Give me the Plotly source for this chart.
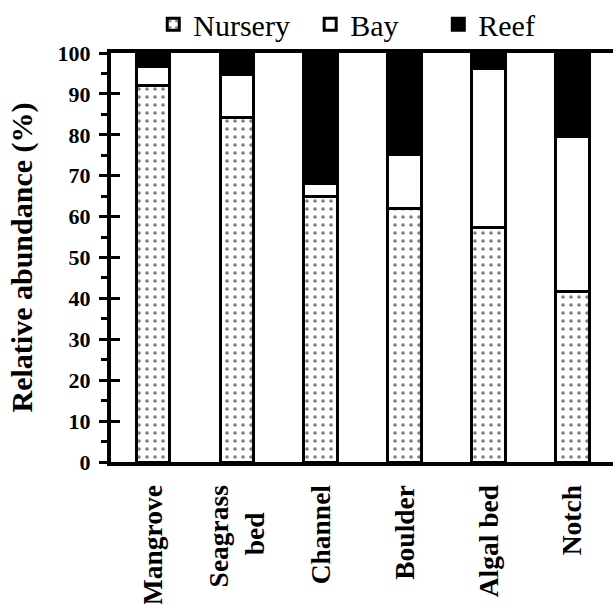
import plotly.graph_objects as go

categories = ["Mangrove", "Seagrass<br>bed\u00a0\u00a0\u00a0\u00a0", "Channel", "Boulder", "Algal bed", "Notch"]
nursery = [92.0, 84.3, 64.8, 62.0, 57.4, 41.6]
bay = [4.8, 10.5, 3.4, 13.1, 38.7, 37.9]
reef = [3.2, 5.2, 31.8, 24.9, 3.9, 20.5]
y_major = [0, 10, 20, 30, 40, 50, 60, 70, 80, 90, 100]

FONT = "Liberation Serif, Tinos, Times New Roman, DejaVu Serif, serif"
x_idx = list(range(len(categories)))
outline = dict(color="black", width=3)
BW = 0.4

fig = go.Figure()
fig.add_bar(x=x_idx, y=nursery, name="Nursery", width=BW, legend="legend",
            marker=dict(color="white", line=outline,
                        pattern=dict(shape=".", fgcolor="black", bgcolor="white",
                                     size=8, solidity=0.16)))
fig.add_bar(x=x_idx, y=bay, name="Bay", width=BW, legend="legend2",
            marker=dict(color="white", line=outline))
fig.add_bar(x=x_idx, y=reef, name="Reef", width=BW, legend="legend3",
            marker=dict(color="black", line=outline))
fig.add_scatter(x=[None], y=[None], yaxis="y2", showlegend=False, hoverinfo="skip")

legend_common = dict(orientation="h", xanchor="left", yanchor="middle",
                     xref="container", yref="container",
                     font=dict(family=FONT, size=30, color="black"),
                     bgcolor="rgba(0,0,0,0)", borderwidth=0)

fig.update_layout(
    width=613, height=604,
    margin=dict(l=111, r=0, t=52.5, b=141.5, autoexpand=False),
    paper_bgcolor="white", plot_bgcolor="white",
    barmode="stack",
    font=dict(family=FONT, color="black"),
    legend=dict(x=0.250, y=0.960, **legend_common),
    legend2=dict(x=0.506, y=0.960, **legend_common),
    legend3=dict(x=0.715, y=0.960, **legend_common),
    xaxis=dict(range=[-0.50, 5.483], tickmode="array", tickvals=x_idx, ticktext=categories,
               tickangle=-90, ticks="", showgrid=False, zeroline=False, automargin=False,
               showline=True, linewidth=4, linecolor="black", mirror=True,
               tickfont=dict(family=FONT, size=27.5, weight="bold", color="black"),
               ticklabelstandoff=8),
    yaxis=dict(range=[0, 100], tickmode="array", tickvals=y_major, ticks="outside",
               ticklen=8, tickwidth=3, tickcolor="black", automargin=False,
               minor=dict(dtick=5, ticks="outside", ticklen=6, tickwidth=3, tickcolor="black"),
               showline=True, linewidth=4, linecolor="black", showgrid=False, zeroline=False,
               tickfont=dict(family=FONT, size=22, weight="bold", color="black"),
               ticklabelstandoff=4,
               title=dict(text="Relative abundance (%)", standoff=17,
                          font=dict(family=FONT, size=30, weight="bold", color="black"))),
    yaxis2=dict(range=[0, 100], overlaying="y", side="left", anchor="x",
                tickmode="array", tickvals=y_major, ticks="inside", ticklen=9, tickwidth=3,
                tickcolor="black", showticklabels=False, showgrid=False, zeroline=False,
                showline=False, automargin=False),
    showlegend=True,
)

fig.write_html("out.html", config={"displayModeBar": False},
               post_script="document.body.style.margin='0';document.body.style.padding='0';")
